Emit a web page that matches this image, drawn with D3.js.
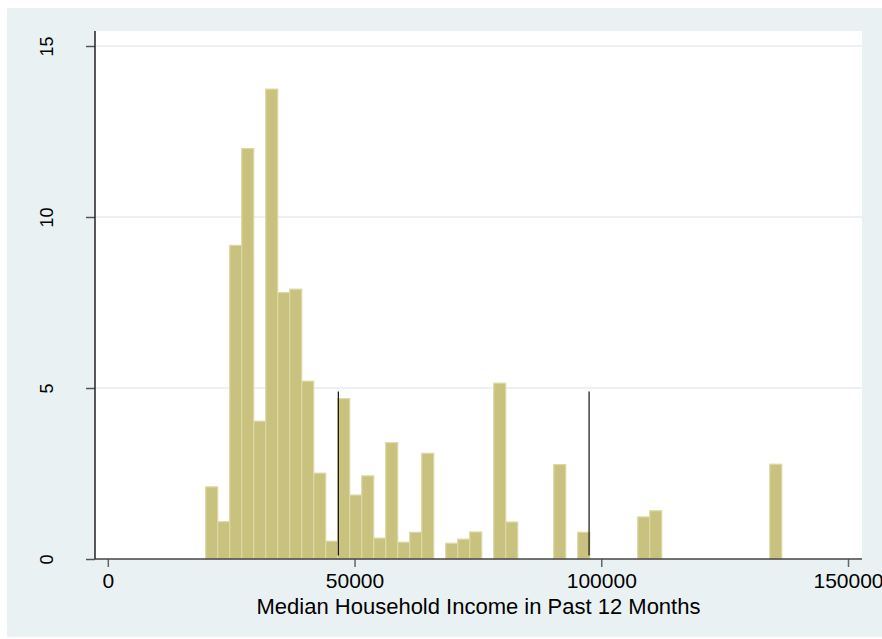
<!DOCTYPE html>
<html>
<head>
<meta charset="utf-8">
<script src="https://cdn.jsdelivr.net/npm/d3@7"></script>
<style>
  html, body { margin: 0; padding: 0; background: #ffffff; }
  svg { display: block; }
</style>
</head>
<body>
<script>
// Histogram bins: left edge of the first bin and common bin width (dollars)
const binStart = 19842;
const binWidth = 2432;
// Percent of observations in each bin
const binPercent = [
  2.11, 1.09, 9.17, 12.0, 4.03, 13.74, 7.79, 7.89, 5.20, 2.51,
  0.52, 4.69, 1.87, 2.43, 0.61, 3.40, 0.49, 0.78, 3.09, 0,
  0.46, 0.58, 0.79, 0, 5.14, 1.08, 0, 0, 0, 2.76,
  0, 0.78, 0, 0, 0, 0, 1.23, 1.41, 0, 0,
  0, 0, 0, 0, 0, 0, 0, 2.77
];
// Reference markers drawn as short vertical segments
const markerIncome = [46720, 97530];
const markerSpan = [0.1, 4.9];
// Axis ticks
const xTicks = [0, 50000, 100000, 150000];
const yTicks = [0, 5, 10, 15];
const xTitle = "Median Household Income in Past 12 Months";

const W = 882, H = 639;
const plot = { left: 95, right: 862, top: 31, bottom: 559 };

const svg = d3.select("body").append("svg")
  .attr("width", W).attr("height", H);

// graph region and plot region backgrounds
svg.append("rect").attr("x", 7).attr("y", 8)
  .attr("width", W - 7).attr("height", H - 10)
  .attr("fill", "#eaf1f3");
svg.append("rect").attr("x", plot.left).attr("y", plot.top)
  .attr("width", plot.right - plot.left).attr("height", plot.bottom - plot.top)
  .attr("fill", "#ffffff");

const x = d3.scaleLinear().domain([0, 150000]).range([107.8, 848]);
const y = d3.scaleLinear().domain([0, 15]).range([plot.bottom, 46]);

// horizontal grid lines
svg.append("g").selectAll("line")
  .data(yTicks.filter(d => d > 0))
  .join("line")
  .attr("x1", plot.left).attr("x2", plot.right)
  .attr("y1", d => y(d)).attr("y2", d => y(d))
  .attr("stroke", "#e6eef1").attr("stroke-width", 1.5);

// bars
const bins = binPercent.map((v, i) => ({
  x0: binStart + i * binWidth,
  x1: binStart + (i + 1) * binWidth,
  v
})).filter(d => d.v > 0);

svg.append("g").selectAll("rect")
  .data(bins)
  .join("rect")
  .attr("x", d => x(d.x0))
  .attr("width", d => x(d.x1) - x(d.x0))
  .attr("y", d => y(d.v))
  .attr("height", d => y(0) - y(d.v))
  .attr("fill", "#c9c27e")
  .attr("stroke", "#dcd8a4")
  .attr("stroke-width", 1.2);

// vertical markers
svg.append("g").selectAll("line")
  .data(markerIncome)
  .join("line")
  .attr("x1", d => x(d)).attr("x2", d => x(d))
  .attr("y1", y(markerSpan[0])).attr("y2", y(markerSpan[1]))
  .attr("stroke", "#111111").attr("stroke-width", 1.2);

// axes
const xAxis = d3.axisBottom(x).tickValues(xTicks).tickFormat(d3.format("d"))
  .tickSize(8).tickPadding(6);
const gx = svg.append("g").attr("transform", `translate(0,${plot.bottom})`).call(xAxis);
gx.select(".domain").remove();
gx.append("line").attr("x1", plot.left).attr("x2", plot.right)
  .attr("y1", 0).attr("y2", 0).attr("stroke", "#444").attr("stroke-width", 1.5);
gx.selectAll(".tick line").attr("stroke", "#666").attr("stroke-width", 1.5);
gx.selectAll(".tick text")
  .attr("font-family", "Liberation Sans, Arial, sans-serif")
  .attr("font-size", 21).attr("fill", "#000");

const yAxis = d3.axisLeft(y).tickValues(yTicks).tickSize(9).tickFormat(d3.format("d"));
const gy = svg.append("g").attr("transform", `translate(${plot.left},0)`).call(yAxis);
gy.select(".domain").remove();
gy.append("line").attr("x1", 0).attr("x2", 0)
  .attr("y1", plot.top).attr("y2", plot.bottom).attr("stroke", "#222").attr("stroke-width", 1.5);
gy.selectAll(".tick line").attr("stroke", "#555").attr("stroke-width", 1.5);
gy.selectAll(".tick text")
  .attr("font-family", "Liberation Sans, Arial, sans-serif")
  .attr("font-size", 18).attr("fill", "#000")
  .attr("text-anchor", "middle")
  .attr("x", null).attr("dy", null)
  .attr("transform", "translate(-42,0) rotate(-90)");

// x axis title
svg.append("text")
  .attr("x", (plot.left + plot.right) / 2).attr("y", 614)
  .attr("text-anchor", "middle")
  .attr("font-family", "Liberation Sans, Arial, sans-serif")
  .attr("font-size", 22).attr("fill", "#000")
  .text(xTitle);
</script>
</body>
</html>
